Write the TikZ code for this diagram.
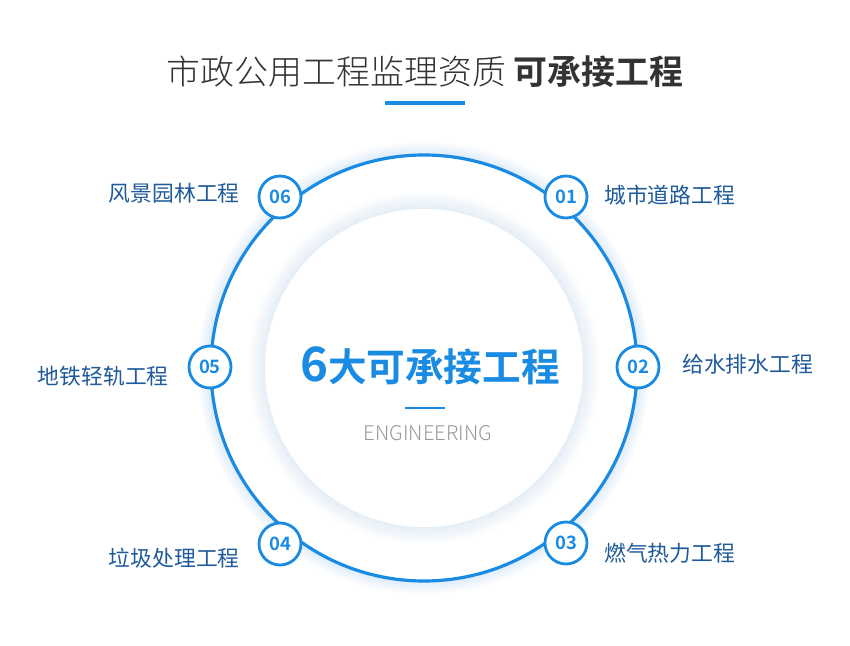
\documentclass[tikz,border=0pt]{standalone}
\usepackage{fontspec}
\setmainfont{Noto Sans CJK SC}
\newfontfamily\cjkb{Noto Sans CJK SC Bold}
\newfontfamily\cjkl{Noto Sans CJK SC Light}
\definecolor{mblue}{HTML}{1A8BE3}
\definecolor{lblue}{HTML}{1F5A9A}
\definecolor{ttl}{HTML}{333333}
\tikzset{
 numc/.style={circle,draw=mblue,line width=1.6pt,fill=white,minimum size=42*0.02cm,inner sep=0pt,text=mblue,font=\cjkb\fontsize{10.5}{12}\selectfont},
 lbl/.style={text=lblue,font=\fontsize{12.4}{14}\selectfont,inner sep=0pt}
}
\begin{document}
\begin{tikzpicture}[x=0.02cm,y=-0.02cm]
\useasboundingbox (0,0) rectangle (850,646);
\fill[white] (0,0) rectangle (850,646);
% glow of big circle
\foreach \r in {226,224,...,214}{\fill[mblue,opacity=0.02] (424,368) circle (\r);}
\fill[white] (424,368) circle (213);
\draw[mblue,line width=1.8pt] (424,368) circle (213);
% inner circle glow
\foreach \r in {176,174,...,160}{\fill[mblue,opacity=0.012] (424,368) circle (\r);}
\fill[white] (424,368) circle (159);
% title
\node (t) at (425,72) {\fontsize{19.3}{22}\selectfont\color{ttl}\cjkl 市政公用工程监理资质 {\cjkb 可承接工程}};
\draw[mblue,line width=1.8pt] (385,103) -- (465,103);
% center
\node (c) at (430,366) {\cjkb\fontsize{22}{26}\selectfont\color{mblue}{\fontsize{27}{30}\selectfont 6}大可承接工程};
\draw[mblue,line width=1pt] (405,408) -- (445,408);
\node (e) at (428,433) {\fontsize{11.5}{13}\selectfont\color[HTML]{999999}\cjkl ENGINEERING};
% numbers
\node[numc] (n1) at (566,197) {01};
\node[numc] (n2) at (638,367) {02};
\node[numc] (n3) at (566,543) {03};
\node[numc] (n4) at (280,544) {04};
\node[numc] (n5) at (210,367) {05};
\node[numc] (n6) at (280,197) {06};
% labels
\node[lbl,anchor=west] (l1) at (604,195) {城市道路工程};
\node[lbl,anchor=west] (l2) at (682,364) {给水排水工程};
\node[lbl,anchor=west] (l3) at (604,553) {燃气热力工程};
\node[lbl,anchor=east] (l4) at (240,558) {垃圾处理工程};
\node[lbl,anchor=east] (l5) at (169,376) {地铁轻轨工程};
\node[lbl,anchor=east] (l6) at (240,193) {风景园林工程};
\end{tikzpicture}
\end{document}
